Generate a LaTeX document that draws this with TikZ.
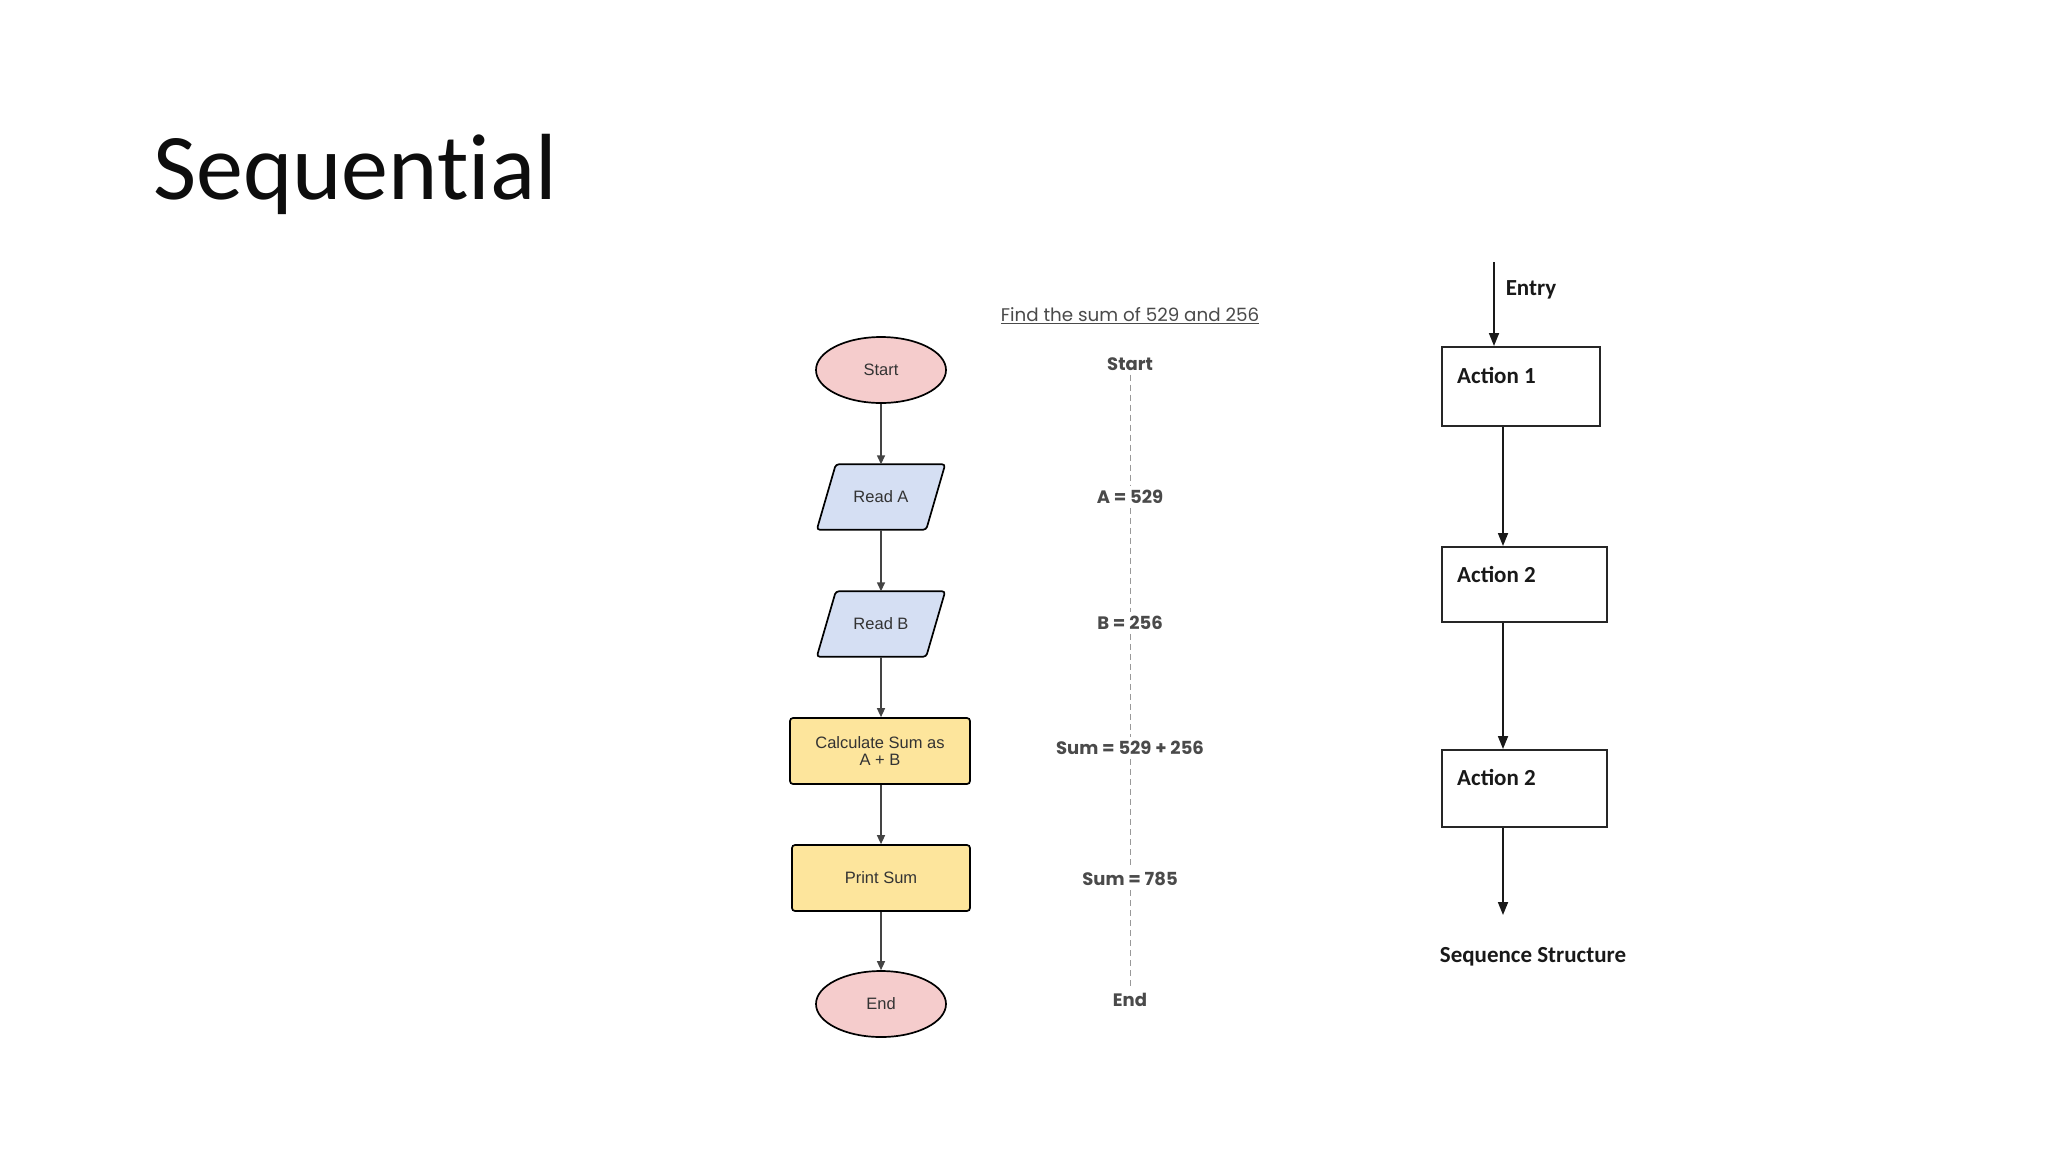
\documentclass[tikz,border=0pt]{standalone}
\usepackage{fontspec}
\setmainfont{Liberation Sans}
\newfontfamily\calfont{Carlito}
\newfontfamily\titlefont[Ligatures=NoCommon]{Carlito}
\newfontfamily\gothfont{Poppins}
\usetikzlibrary{arrows.meta,shapes.geometric,calc,backgrounds}
\definecolor{pinkfill}{HTML}{F5CCCC}
\definecolor{bluefill}{HTML}{D5DFF3}
\definecolor{yelfill}{HTML}{FDE59C}
\definecolor{fctext}{HTML}{333333}
\definecolor{midtext}{HTML}{4A4A4A}
\definecolor{fcline}{HTML}{444444}
\tikzset{
  term/.style={ellipse, draw=black, line width=1.7pt, fill=pinkfill, minimum width=130, minimum height=66, inner sep=0pt, text=fctext, font=\fontsize{16.5}{19}\selectfont},
  iobox/.style={rectangle, draw=none, minimum width=109, minimum height=65, inner sep=0pt, text=fctext, font=\fontsize{16.5}{19}\selectfont},
  iopath/.style={draw=black, line width=1.7pt, fill=bluefill, rounded corners=3pt},
  procbox/.style={rectangle, draw=black, line width=1.7pt, fill=yelfill, rounded corners=3pt, minimum width=180, minimum height=66, inner sep=0pt, align=center, text=fctext, font=\fontsize{16.5}{19}\selectfont},
  farrow/.style={draw=fcline, line width=1.4pt, -{Triangle[length=9pt,width=8pt]}},
  midlab/.style={text=midtext, inner sep=4pt, font=\gothfont\bfseries\fontsize{18}{21}\selectfont},
  dashl/.style={draw=gray!80, line width=0.8pt, dash pattern=on 6pt off 4pt},
  abox/.style={rectangle, draw=black!85, line width=2pt, inner sep=0pt},
  atext/.style={text=black!90, inner sep=0pt, font=\calfont\bfseries\fontsize{23}{27}\selectfont},
  rarrow/.style={draw=black!90, line width=1.8pt, -{Triangle[length=13pt,width=10pt]}},
}
\begin{document}
\begin{tikzpicture}[x=1pt,y=-1pt]
\useasboundingbox (0,0) rectangle (2048,1152);

% title
\node[anchor=base west, inner sep=0pt, font=\titlefont\fontsize{94}{110}\selectfont, text=black!95] (title) at (153,199) {Sequential};

% left flowchart
\node[term] (start) at (881,370) {Start};
\node[iobox] (ra) at (881,497) {Read A};
\node[iobox] (rb) at (881,624) {Read B};
\node[procbox] (calc) at (880,751) {Calculate Sum as\\[-2pt]A + B};
\node[procbox, minimum width=178] (pr) at (881,878) {Print Sum};
\node[term] (end) at (881,1004) {End};

\draw[farrow] (start.south) -- (ra.north);
\draw[farrow] (ra.south) -- (rb.north);
\draw[farrow] (rb.south) -- (calc.north -| rb.south);
\draw[farrow] (calc.south -| rb.south) -- (pr.north -| rb.south);
\draw[farrow] (pr.south -| rb.south) -- (end.north);

% middle column
\node[text=midtext, inner sep=0pt, font=\gothfont\fontsize{18.3}{21}\selectfont] (mt) at (1130,316) {\underline{Find the sum of 529 and 256}};
\node[midlab] (ms) at (1130,364) {Start};
\node[midlab] (ma) at (1130,497) {A = 529};
\node[midlab] (mb) at (1130,623) {B = 256};
\node[midlab] (mc) at (1130,748) {Sum = 529 + 256};
\node[midlab] (md) at (1130,879) {Sum = 785};
\node[midlab] (me) at (1130,1000) {End};
\draw[dashl] (ms.south) -- (ma.north);
\draw[dashl] (ma.south) -- (mb.north);
\draw[dashl] (mb.south) -- (mc.north);
\draw[dashl] (mc.south) -- (md.north);
\draw[dashl] (md.south) -- (me.north);

% right structure
\node[abox, minimum width=158, minimum height=79] (a1) at (1521,386.5) {};
\node[abox, minimum width=165, minimum height=75] (a2) at (1524.5,584.5) {};
\node[abox, minimum width=165, minimum height=77] (a3) at (1524.5,788.5) {};
\node[atext, anchor=west] (t1) at (1457,375) {Action 1};
\node[atext, anchor=west] (t2) at (1457,574) {Action 2};
\node[atext, anchor=west] (t3) at (1457,777) {Action 2};
\node[atext] (entry) at (1531,290) {Entry};
\node[atext] (ss) at (1533,957) {Sequence Structure};
\coordinate (ein) at (1494,262);
\coordinate (ax) at (1503,0);
\coordinate (exit) at (1503,915);
\draw[rarrow] (ein) -- (ein |- a1.north);
\draw[rarrow] (a1.south -| ax) -- (a2.north -| ax);
\draw[rarrow] (a2.south -| ax) -- (a3.north -| ax);
\draw[rarrow] (a3.south -| ax) -- (exit);

\begin{scope}[on background layer]
\fill[white] (0,0) rectangle (2048,1152);
\foreach \n in {ra,rb}{
  \draw[iopath] ($(\n.north west)+(9.5,0)$) -- ($(\n.north east)+(9.5,0)$) -- ($(\n.south east)+(-9.5,0)$) -- ($(\n.south west)+(-9.5,0)$) -- cycle;
}
\end{scope}
\end{tikzpicture}
\end{document}
